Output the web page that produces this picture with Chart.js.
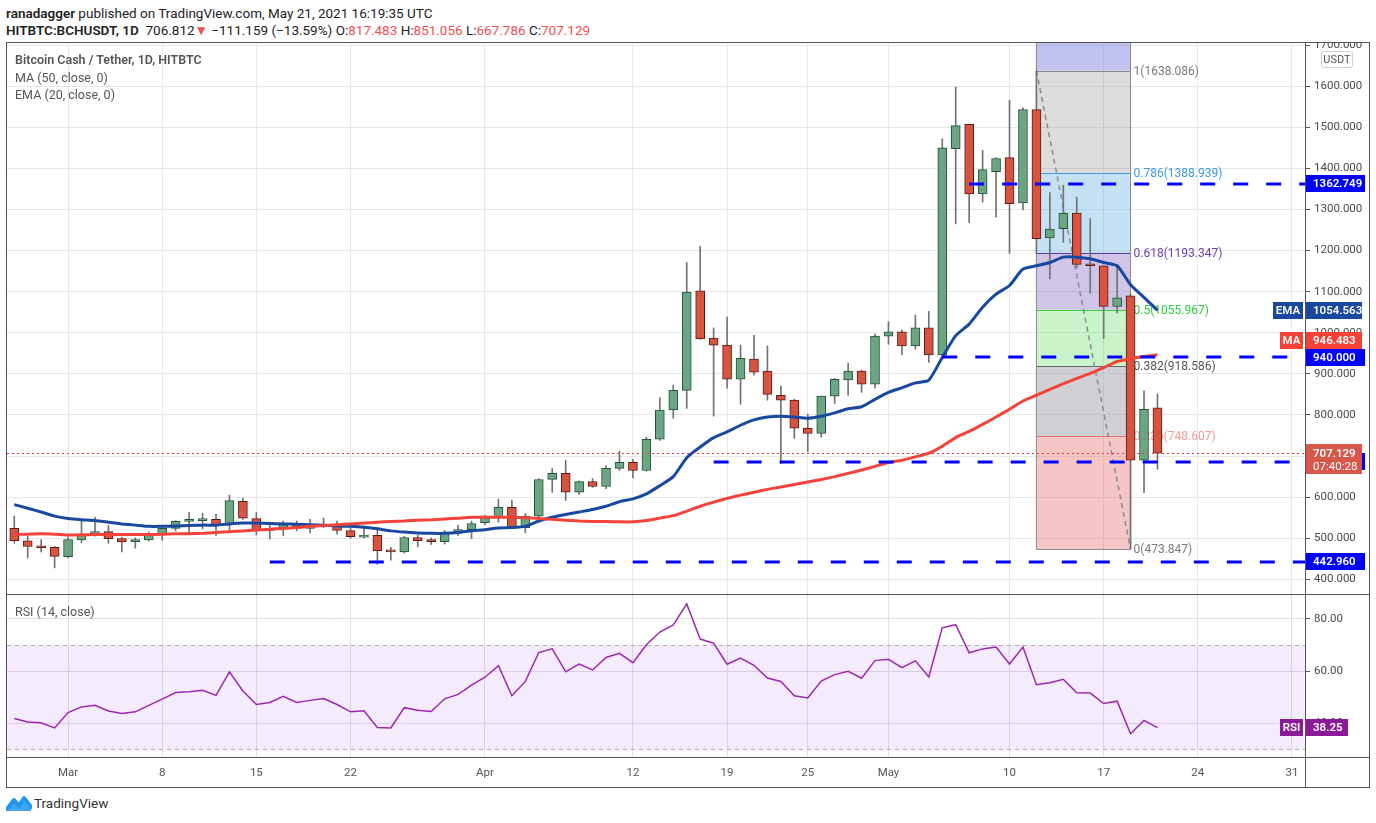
<!DOCTYPE html>
<html>
<head>
<meta charset="utf-8">
<script src="https://cdn.jsdelivr.net/npm/chart.js@4.4.0/dist/chart.umd.min.js"></script>
<style>
  body { margin: 0; width: 1376px; height: 823px; background: #fff; overflow: hidden; position: relative;
         font-family: Roboto, "Liberation Sans", sans-serif; color: #333; }
  .abs { position: absolute; white-space: nowrap; }
  .red { color: #f05050; }
  .leg { color: #555; font-size: 12.5px; }
</style>
</head>
<body>
<div class="abs" style="left:6px;top:5px;font-size:13.5px;color:#222"><b style="font-weight:600">ranadagger</b> published on TradingView.com, May 21, 2021 16:19:35 UTC</div>
<div class="abs" style="left:6px;top:22px;font-size:13.5px;color:#222"><b style="font-weight:600">HITBTC:BCHUSDT, 1D</b>&nbsp; 706.812<span class="red">▼</span> −111.159 (−13.59%) O:<span class="red">817.483</span> H:<span class="red">851.056</span> L:<span class="red">667.786</span> C:<span class="red">707.129</span></div>

<div class="abs" style="left:0;top:43px;width:1376px;height:552px"><canvas id="price"></canvas></div>
<div class="abs" style="left:0;top:595px;width:1376px;height:192px"><canvas id="rsi"></canvas></div>

<!-- frame -->
<div class="abs" style="left:6px;top:42px;width:1362px;height:744px;border:1.5px solid #555"></div>
<div class="abs" style="left:6px;top:594px;width:1364px;height:0;border-top:1.5px solid #555"></div>
<div class="abs" style="left:6px;top:757px;width:1364px;height:0;border-top:1.5px solid #555"></div>
<div class="abs" style="left:1304.5px;top:42px;width:0;height:746px;border-left:1.5px solid #555"></div>

<div class="abs leg" style="left:15px;top:52px;font-weight:600">Bitcoin Cash / Tether, 1D, HITBTC</div>
<div class="abs leg" style="left:15px;top:70px">MA (50, close, 0)</div>
<div class="abs leg" style="left:15px;top:87px">EMA (20, close, 0)</div>
<div class="abs" style="left:1321px;top:51px;width:30px;height:15px;border:1px solid #d0d0d0;border-radius:3px;font-size:11px;color:#555;text-align:center;line-height:15px">USDT</div>
<div class="abs leg" style="left:15px;top:604px">RSI (14, close)</div>

<svg class="abs" style="left:6px;top:794px" width="26" height="18" viewBox="0 0 26 18">
  <path d="M1 15 L8 6 L13 12 L18 4 L25 13" fill="none" stroke="#2196f3" stroke-width="4" stroke-linejoin="round" stroke-linecap="round"/>
  <path d="M1 15 L8 6 L13 12 L18 4 L25 13 L25 17 L1 17 Z" fill="#2196f3" opacity="0.85"/>
</svg>
<div class="abs" style="left:34px;top:795px;font-size:13.5px;color:#333">TradingView</div>

<script>
// daily candles, 25 Feb - 21 May 2021
const dates = [
  '2021-02-25','2021-02-26','2021-02-27','2021-02-28',
  '2021-03-01','2021-03-02','2021-03-03','2021-03-04','2021-03-05','2021-03-06','2021-03-07','2021-03-08',
  '2021-03-09','2021-03-10','2021-03-11','2021-03-12','2021-03-13','2021-03-14','2021-03-15','2021-03-16',
  '2021-03-17','2021-03-18','2021-03-19','2021-03-20','2021-03-21','2021-03-22','2021-03-23','2021-03-24',
  '2021-03-25','2021-03-26','2021-03-27','2021-03-28','2021-03-29','2021-03-30','2021-03-31',
  '2021-04-01','2021-04-02','2021-04-03','2021-04-04','2021-04-05','2021-04-06','2021-04-07','2021-04-08',
  '2021-04-09','2021-04-10','2021-04-11','2021-04-12','2021-04-13','2021-04-14','2021-04-15','2021-04-16',
  '2021-04-17','2021-04-18','2021-04-19','2021-04-20','2021-04-21','2021-04-22','2021-04-23','2021-04-24',
  '2021-04-25','2021-04-26','2021-04-27','2021-04-28','2021-04-29','2021-04-30',
  '2021-05-01','2021-05-02','2021-05-03','2021-05-04','2021-05-05','2021-05-06','2021-05-07','2021-05-08',
  '2021-05-09','2021-05-10','2021-05-11','2021-05-12','2021-05-13','2021-05-14','2021-05-15','2021-05-16',
  '2021-05-17','2021-05-18','2021-05-19','2021-05-20','2021-05-21'
];
const opens = [524,494,481,478,
  455,496,511,516,499,492,496,511,524,541,543,546,533,590,548,519,524,536,524,529,532,519,503,507,470,467,502,497,492,513,521,
  538,551,575,526,554,643,658,612,638,626,670,685,665,741,812,860,1102,987,970,887,936,907,848,836,768,755,846,885,907,875,
  992,1002,968,1012,946,1448,1507,1338,1392,1426,1316,1543,1231,1253,1291,1168,1163,1064,1090,690,817.483];
const highs = [554,505,497,480,
  503,543,551,532,503,501,515,528,543,563,561,558,605,598,563,535,542,542,546,549,542,537,530,525,478,505,507,501,519,532,542,
  556,595,593,560,645,670,690,640,645,677,712,692,746,842,873,1171,1210,1012,1038,970,994,968,870,838,802,846,889,926,909,997,
  1027,1007,1043,1052,1472,1598,1507,1444,1426,1565,1547,1638,1341,1359,1330,1278,1163,1166,1095,859,851.056];
const lows = [488,452,467,428,
  452,489,505,488,467,476,493,495,518,513,523,507,515,546,508,498,506,518,513,526,510,500,500,437,447,464,479,485,486,507,499,
  533,539,524,513,550,612,592,607,624,621,665,647,663,738,792,816,984,797,865,826,897,836,682,743,711,746,828,848,855,865,
  972,946,960,928,940,1265,1268,1318,1281,1193,1299,1192,1131,1220,1158,1096,986,1048,474,611,667.786];
const closes = [494,480,477,456,
  497,511,516,499,491,497,511,524,541,543,546,533,592,549,519,524,536,524,529,532,519,504,507,470,467,502,494,492,513,521,536,
  551,575,526,554,643,658,612,638,626,670,685,665,741,812,860,1099,985,970,887,938,904,850,836,768,755,846,887,907,875,992,
  1002,968,1012,946,1450,1504,1338,1397,1424,1314,1543,1229,1252,1291,1166,1163,1064,1085,690,814,707.129];
const ema20 = [582,573,564,554,
  548,545,543,539,535,532,529,529,530,531,532,532,535,537,537,536,535,534,533,532,530,529,527,523,518,515,513,512,512,514,518,
  521,525,526,529,542,551,558,564,570,578,589,596,608,628,650,696,722,745,759,775,788,795,797,795,792,797,805,815,820,838,
  855,866,878,885,940,993,1021,1062,1094,1115,1155,1163,1171,1184,1184,1180,1171,1163,1117,1086,1054.563];
const ma50 = [509,510,511,510,
  508,508,509,509,509,509,509,510,511,511,512,514,516,518,520,522,524,526,529,531,533,535,537,539,541,542,544,545,547,549,551,
  551,551,551,550,548,546,544,542,541,541,540,540,543,549,555,566,578,588,597,605,612,619,625,631,637,643,650,658,666,675,
  684,690,698,707,724,745,760,777,795,814,834,848,862,876,889,901,915,930,937,942,946.483];
const rsi14 = [41.7,40.4,40.1,38.1,
  44.0,46.2,46.8,44.6,43.7,44.3,46.8,49.2,51.7,52.0,52.6,50.6,59.7,52.3,47.1,47.9,50.3,47.9,48.7,49.4,47.1,44.3,44.7,38.3,38.1,45.9,44.9,44.4,49.3,51.0,54.6,
  57.6,62.0,50.5,56.0,67.1,68.5,59.7,62.7,60.4,65.2,66.8,63.2,70.1,75.0,77.7,85.8,72.3,70.7,62.6,65.0,62.2,57.3,56.0,50.5,49.6,56.1,58.6,59.9,57.2,64.0,
  64.5,61.3,63.9,57.7,76.6,77.8,67.0,68.5,69.2,62.7,69.2,54.7,55.5,56.8,51.6,51.5,47.5,48.4,35.9,41.0,38.25];

const tickDates = ['2021-03-01','2021-03-08','2021-03-15','2021-03-22','2021-04-01','2021-04-12','2021-04-19',
                   '2021-04-25','2021-05-01','2021-05-10','2021-05-17','2021-05-24','2021-05-31'];
const tickLabels = ['Mar','8','15','22','Apr','12','19','25','May','10','17','24','31'];
const priceTicks = [400,500,600,700,800,900,1000,1100,1200,1300,1400,1500,1600,1700];
const rsiTicks = [40,60,80];

// drawings
const fibRatios = [1, 0.786, 0.618, 0.5, 0.382, 0.236, 0];
const fibPrices = [1638.086, 1388.939, 1193.347, 1055.967, 918.586, 748.607, 473.847];
const fibFrom = '2021-05-12', fibTo = '2021-05-19';
const levelPrices = [1362.749, 940.000, 686.750, 442.960];
const levelStarts = ['2021-05-07','2021-05-05','2021-04-18','2021-03-16'];

const dayOf = s => Math.round((Date.parse(s + 'T00:00:00Z') - Date.parse('2021-03-01T00:00:00Z')) / 864e5);
const xs = dates.map(dayOf);
const tickDays = tickDates.map(dayOf);
const X_MIN = -4.54, X_MAX = 91.97;
const FONT = 'Roboto, "Liberation Sans", sans-serif';
const UP = '#6ba583', UP_B = '#225437', DN = '#d75442', DN_B = '#5b1a13';

function xScale(labels) {
  return {
    type: 'linear', min: X_MIN, max: X_MAX, offset: false,
    afterBuildTicks: s => { s.ticks = tickDays.map(v => ({ value: v })); },
    grid: { color: labels ? '#e4dfe8' : '#e8e8e8', drawTicks: false, offset: false },
    border: { display: false },
    ticks: { display: labels, autoSkip: false, maxRotation: 0, padding: 8, color: '#555',
             font: { family: FONT, size: 11.5 }, callback: (v, i) => tickLabels[i] },
    afterFit: s => { s.height = labels ? 29 : 0; s.paddingLeft = 0; s.paddingRight = 0; }
  };
}

// coloured value box on the price axis
function tag(ctx, x, y, w, h, bg, text) {
  ctx.fillStyle = bg;
  ctx.fillRect(x, Math.round(y - h / 2), w, h);
  ctx.fillStyle = '#fff';
  ctx.textBaseline = 'middle';
  ctx.textAlign = 'left';
  ctx.fillText(text, x + 8, y + 0.5);
}
// small name box left of the axis
function nameTag(ctx, right, y, w, bg, text) {
  ctx.fillStyle = bg;
  ctx.fillRect(right - w, Math.round(y - 8.5), w, 17);
  ctx.fillStyle = '#fff';
  ctx.textBaseline = 'middle';
  ctx.textAlign = 'center';
  ctx.fillText(text, right - w / 2, y + 0.5);
}

const priceDraw = {
  id: 'priceDraw',
  beforeDatasetsDraw(chart) {
    const { ctx, chartArea: a, scales: { x, y } } = chart;
    const x0 = x.getPixelForValue(dayOf(fibFrom)), x1 = x.getPixelForValue(dayOf(fibTo));
    const zone = ['rgba(120,123,220,0.45)', 'rgba(128,128,128,0.28)', 'rgba(64,160,220,0.3)', 'rgba(103,58,183,0.3)',
                  'rgba(76,217,76,0.3)', 'rgba(120,120,135,0.35)', 'rgba(230,90,90,0.35)'];
    const lineC = ['#8a8a8a', '#3d9be0', '#5e35a8', '#3ecb3e', '#666', '#e57373', '#8a8a8a'];
    const textC = ['#7a7a7a', '#3d9ae0', '#6a3fb0', '#2ecc40', '#555', '#f09a9a', '#7a7a7a'];
    ctx.save();
    ctx.beginPath(); ctx.rect(a.left, a.top, a.right - a.left, a.bottom - a.top); ctx.clip();
    ctx.fillStyle = zone[0];
    ctx.fillRect(x0, a.top, x1 - x0, y.getPixelForValue(fibPrices[0]) - a.top);
    for (let i = 0; i < fibPrices.length - 1; i++) {
      const t = y.getPixelForValue(fibPrices[i]), b = y.getPixelForValue(fibPrices[i + 1]);
      ctx.fillStyle = zone[i + 1];
      ctx.fillRect(x0, t, x1 - x0, b - t);
    }
    ctx.lineWidth = 1;
    ctx.font = '12px ' + FONT;
    ctx.textBaseline = 'middle';
    fibPrices.forEach((p, i) => {
      const py = Math.round(y.getPixelForValue(p)) + 0.5;
      ctx.strokeStyle = lineC[i];
      ctx.beginPath(); ctx.moveTo(x0, py); ctx.lineTo(x1, py); ctx.stroke();
      ctx.fillStyle = textC[i];
      ctx.fillText(fibRatios[i] + '(' + p.toFixed(3) + ')', x1 + 3, py);
    });
    ctx.strokeStyle = '#8a8a8a';
    ctx.beginPath(); ctx.moveTo(x0, a.top); ctx.lineTo(x0, y.getPixelForValue(fibPrices[6])); ctx.stroke();
    ctx.beginPath(); ctx.moveTo(x1, a.top); ctx.lineTo(x1, y.getPixelForValue(fibPrices[6])); ctx.stroke();
    // trend line of the retracement
    ctx.setLineDash([5, 4]);
    ctx.lineWidth = 1.5;
    ctx.beginPath();
    ctx.moveTo(x0, y.getPixelForValue(fibPrices[0]));
    ctx.lineTo(x1, y.getPixelForValue(fibPrices[6]));
    ctx.stroke();
    ctx.restore();
  },
  afterDatasetsDraw(chart) {
    const { ctx, chartArea: a, scales: { x, y } } = chart;
    ctx.save();
    // last close
    const cy = Math.round(y.getPixelForValue(closes[closes.length - 1])) + 0.5;
    ctx.strokeStyle = '#e53935'; ctx.lineWidth = 1; ctx.setLineDash([2, 3]);
    ctx.beginPath(); ctx.moveTo(a.left, cy); ctx.lineTo(a.right, cy); ctx.stroke();
    // horizontal levels
    ctx.strokeStyle = '#0000ff'; ctx.lineWidth = 3; ctx.setLineDash([15, 18]);
    levelPrices.forEach((p, i) => {
      const py = Math.round(y.getPixelForValue(p));
      ctx.beginPath(); ctx.moveTo(x.getPixelForValue(dayOf(levelStarts[i])), py); ctx.lineTo(a.right, py); ctx.stroke();
    });
    ctx.restore();
  },
  afterDraw(chart) {
    const { ctx, chartArea: a, scales: { y } } = chart;
    const R = a.right;
    ctx.save();
    ctx.font = '600 11.5px ' + FONT;
    const n = closes.length - 1;
    const yE = y.getPixelForValue(ema20[n]);
    const y940 = y.getPixelForValue(levelPrices[1]);
    let yM = y.getPixelForValue(ma50[n]);
    if (Math.abs(yM - y940) < 17) yM = y940 - 17;
    nameTag(ctx, R - 2, yE, 30, '#1848a0', 'EMA');
    tag(ctx, R, yE, 57, 17, '#1848a0', ema20[n].toFixed(3));
    nameTag(ctx, R - 2, yM, 23, '#f44336', 'MA');
    tag(ctx, R, yM, 57, 17, '#f44336', ma50[n].toFixed(3));
    levelPrices.forEach(p => tag(ctx, R, y.getPixelForValue(p), 60, 17, '#0000ff', p.toFixed(3)));
    // last price + countdown
    const yc = y.getPixelForValue(closes[n]);
    ctx.fillStyle = '#d8574a';
    ctx.fillRect(R, Math.round(yc - 9), 57, 30);
    ctx.fillStyle = '#fff'; ctx.textAlign = 'left'; ctx.textBaseline = 'middle';
    ctx.fillText(closes[n].toFixed(3), R + 8, yc + 0.5);
    ctx.font = '11.5px ' + FONT;
    ctx.fillText('07:40:28', R + 8, yc + 13.5);
    ctx.restore();
  }
};

new Chart(document.getElementById('price'), {
  type: 'bar',
  data: {
    datasets: [
      { type: 'line', data: xs.map((d, i) => ({ x: d, y: ma50[i] })), borderColor: '#f4433a', borderWidth: 3,
        pointRadius: 0, tension: 0.2, order: 0 },
      { type: 'line', data: xs.map((d, i) => ({ x: d, y: ema20[i] })), borderColor: '#1848a0', borderWidth: 3,
        pointRadius: 0, tension: 0.2, order: 1 },
      { data: xs.map((d, i) => ({ x: d, y: [opens[i], closes[i]] })), grouped: false, barThickness: 9,
        minBarLength: 2, borderWidth: 1, borderSkipped: false, order: 2,
        backgroundColor: c => closes[c.dataIndex] >= opens[c.dataIndex] ? UP : DN,
        borderColor: c => closes[c.dataIndex] >= opens[c.dataIndex] ? UP_B : DN_B },
      { data: xs.map((d, i) => ({ x: d, y: [lows[i], highs[i]] })), grouped: false, barThickness: 1,
        backgroundColor: '#737375', borderWidth: 0, order: 3 }
    ]
  },
  options: {
    responsive: true, maintainAspectRatio: false, animation: false,
    layout: { padding: { left: 7, right: 0, top: 0, bottom: 0 }, autoPadding: false },
    plugins: { legend: { display: false }, tooltip: { enabled: false } },
    scales: {
      x: xScale(false),
      y: {
        position: 'right', min: 362, max: 1705,
        afterBuildTicks: s => { s.ticks = priceTicks.map(v => ({ value: v })); },
        grid: { color: '#e8e8e8', tickLength: 5, tickColor: '#555' },
        border: { display: false },
        ticks: { padding: 4, color: '#4a4a4a', font: { family: FONT, size: 11.5 }, callback: v => v.toFixed(3) },
        afterFit: s => { s.width = 71; s.paddingTop = 0; s.paddingBottom = 0; }
      }
    }
  },
  plugins: [priceDraw]
});

const rsiDraw = {
  id: 'rsiDraw',
  beforeDatasetsDraw(chart) {
    const { ctx, chartArea: a, scales: { y } } = chart;
    const t = y.getPixelForValue(70), b = y.getPixelForValue(30);
    ctx.save();
    ctx.fillStyle = 'rgba(155,70,235,0.11)';
    ctx.fillRect(a.left, t, a.right - a.left, b - t);
    ctx.strokeStyle = '#b4a8bc'; ctx.lineWidth = 1; ctx.setLineDash([4, 4]);
    [t, b].forEach(py => { ctx.beginPath(); ctx.moveTo(a.left, Math.round(py) + 0.5); ctx.lineTo(a.right, Math.round(py) + 0.5); ctx.stroke(); });
    ctx.restore();
  },
  afterDraw(chart) {
    const { ctx, chartArea: a, scales: { y } } = chart;
    const v = rsi14[rsi14.length - 1], py = y.getPixelForValue(v);
    ctx.save();
    ctx.font = '600 11.5px ' + FONT;
    nameTag(ctx, a.right - 2, py, 23, '#8b1a98', 'RSI');
    tag(ctx, a.right, py, 43, 17, '#8b1a98', v.toFixed(2));
    ctx.restore();
  }
};

new Chart(document.getElementById('rsi'), {
  type: 'line',
  data: {
    datasets: [{ data: xs.map((d, i) => ({ x: d, y: rsi14[i] })), borderColor: '#9c27b0', borderWidth: 1.5,
                 pointRadius: 0, tension: 0 }]
  },
  options: {
    responsive: true, maintainAspectRatio: false, animation: false,
    layout: { padding: { left: 7, right: 0, top: 0, bottom: 0 }, autoPadding: false },
    plugins: { legend: { display: false }, tooltip: { enabled: false } },
    scales: {
      x: xScale(true),
      y: {
        position: 'right', min: 26.54, max: 89.23,
        afterBuildTicks: s => { s.ticks = rsiTicks.map(v => ({ value: v })); },
        grid: { color: '#e2dce8', tickLength: 5, tickColor: '#555' },
        border: { display: false },
        ticks: { padding: 4, color: '#4a4a4a', font: { family: FONT, size: 11.5 }, callback: v => v.toFixed(2) },
        afterFit: s => { s.width = 71; s.paddingTop = 0; s.paddingBottom = 0; }
      }
    }
  },
  plugins: [rsiDraw]
});
</script>
</body>
</html>
